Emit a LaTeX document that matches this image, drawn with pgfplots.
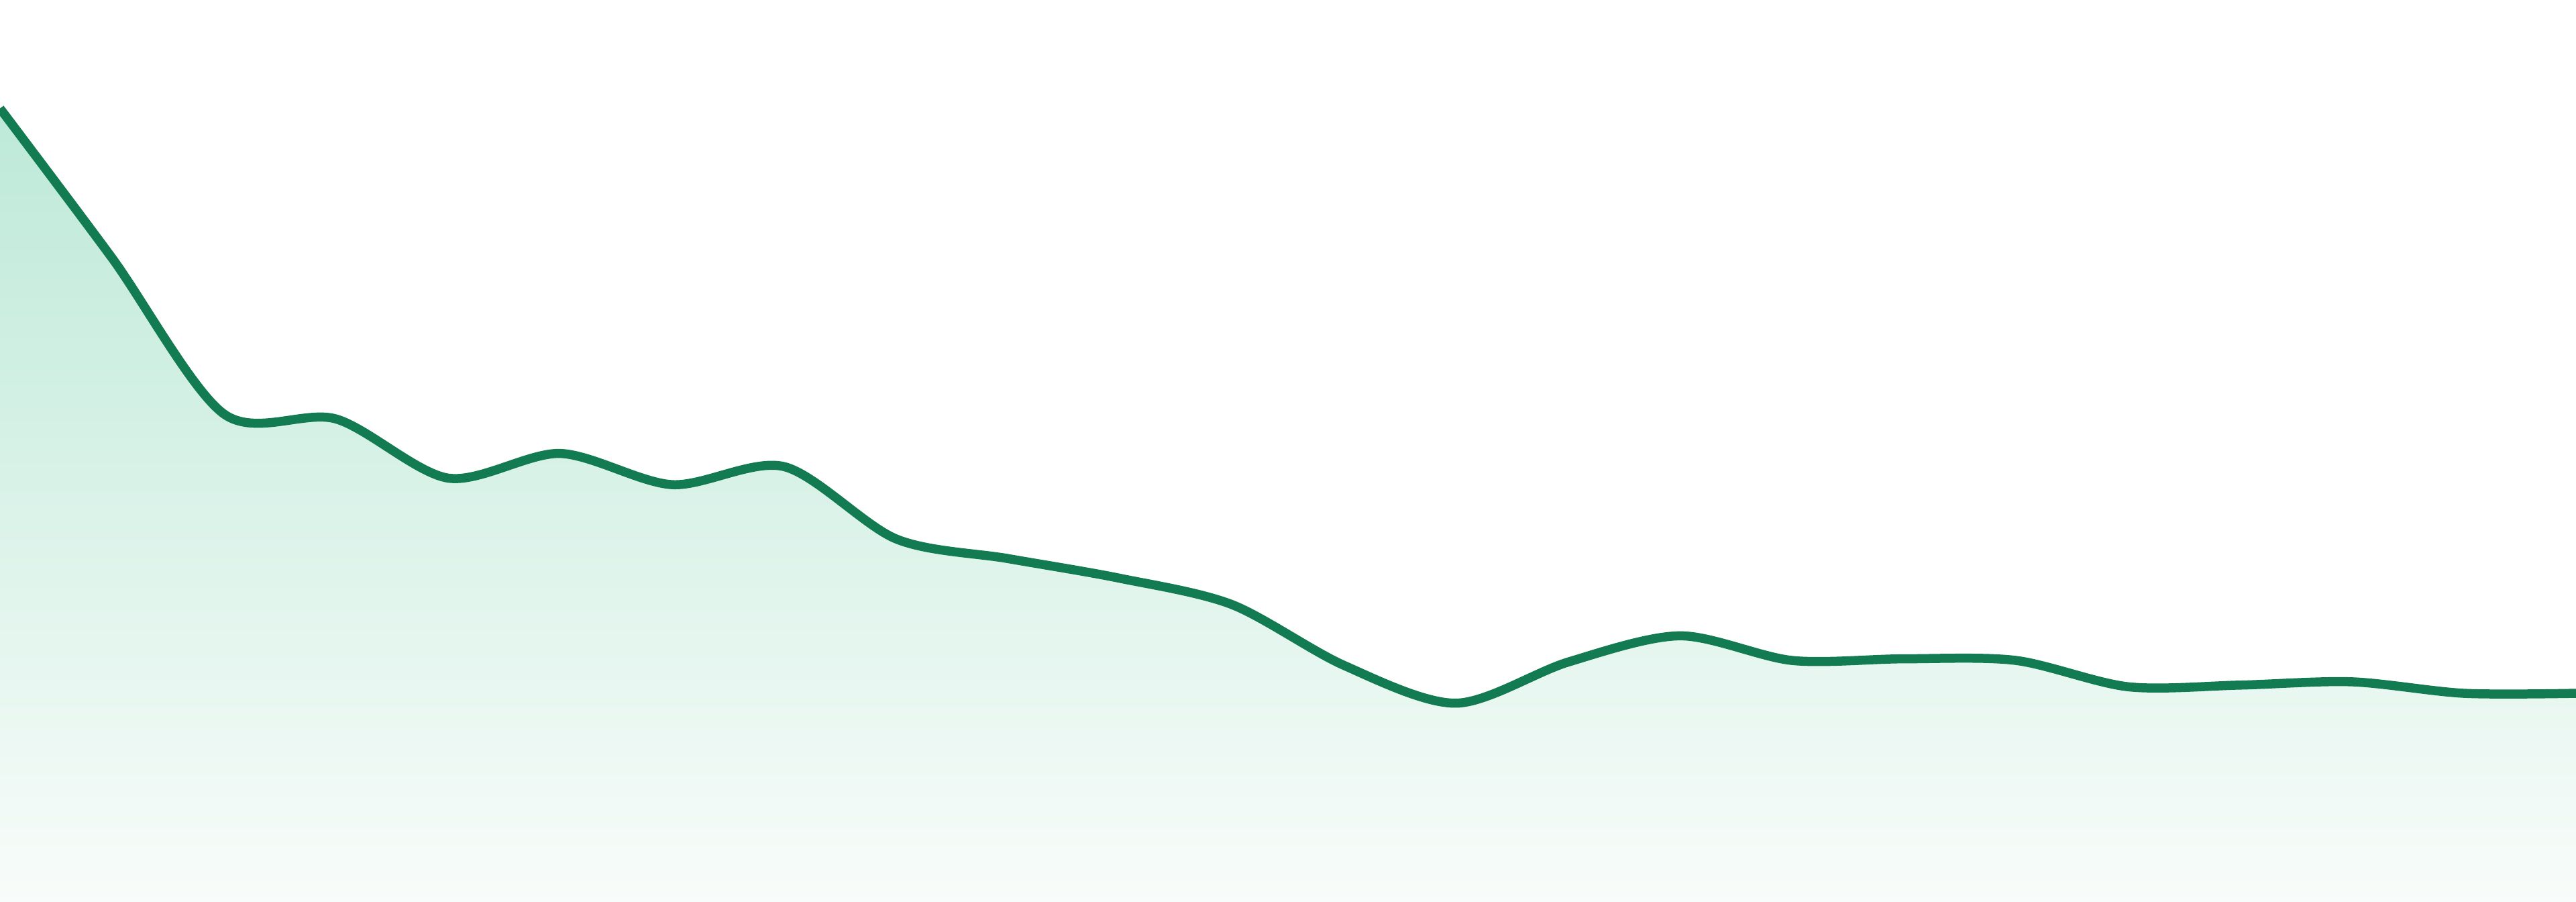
\documentclass[border=0pt]{standalone}
\usepackage{pgfplots}
\pgfplotsset{compat=1.18}
\definecolor{linegreen}{RGB}{19,123,82}
\definecolor{filltop}{RGB}{189,233,216}
\definecolor{fillbot}{RGB}{248,252,250}

\pgfplotstableread{
x  y
0  483
1  392
2  297
3  294
4  258
5  273
6  254
7  265
8  221
9  209
10 197
11 181
12 144
13 121
14 146
15 162
16 147
17 148
18 147
19 131
20 132
21 134
22 127
23 127
}\datatable

\begin{document}
\begin{tikzpicture}
\begin{axis}[
    width=20cm, height=7cm,
    scale only axis,
    hide axis,
    xmin=0, xmax=23,
    ymin=0, ymax=549,
    clip=true,
]
 \addplot[draw=none, top color=filltop, bottom color=fillbot, smooth, tension=0.5]
    table[x=x, y=y] {\datatable} \closedcycle;
 \addplot[linegreen, line width=2pt, smooth, tension=0.5, line join=round]
    table[x=x, y=y] {\datatable};
\end{axis}
\pgfresetboundingbox
\path (current axis.south west) rectangle (current axis.north east);
\end{tikzpicture}
\end{document}
